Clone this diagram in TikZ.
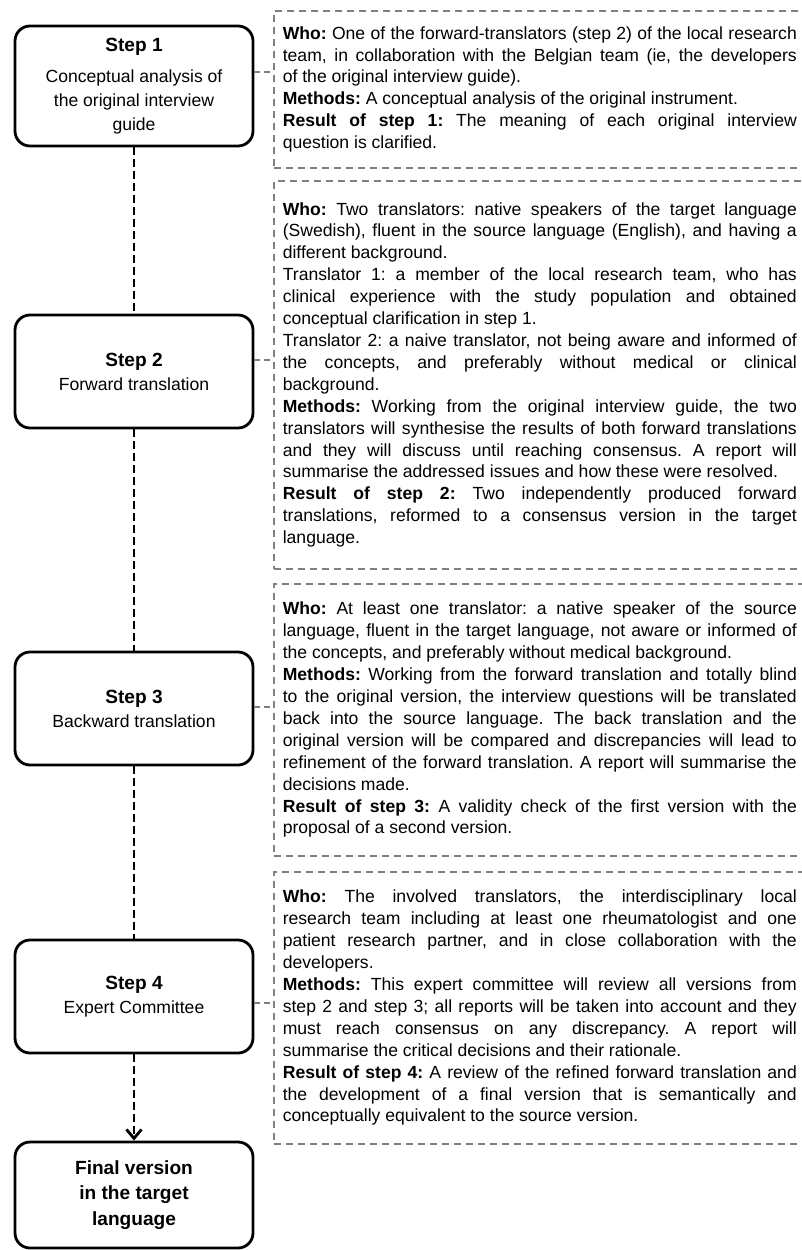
\documentclass[tikz,border=0pt]{standalone}
\usepackage{fontspec}
\setmainfont{Liberation Sans}
\usetikzlibrary{arrows.meta}
\definecolor{dashgray}{HTML}{808080}
\newcommand{\jline}[1]{\makebox[\hsize][s]{\spaceskip=0pt\xspaceskip=0pt\relax #1}\\}
\newcommand{\steptitle}[1]{{\fontsize{16.3}{20.4}\selectfont\bfseries #1}}

\begin{document}
\begin{tikzpicture}[x=0.03cm, y=-0.03cm,
		stepbox/.style={draw, line width=2.4pt, rounded corners=0.45cm, minimum width=7.14cm, minimum height=3.39cm, align=center, font=\fontsize{15}{20.4}\selectfont},
		infobox/.style={draw=dashgray, line width=1.4pt, dash pattern=on 6pt off 4.25pt, anchor=north west, text width=15.42cm, inner xsep=0.27cm, align=flush left, font=\fontsize{15}{18.7}\selectfont\frenchspacing},
		vlink/.style={line width=2.4pt, dash pattern=on 6.8pt off 3.4pt},
		hlink/.style={dashgray, line width=1.4pt, dash pattern=on 5pt off 3.4pt}]
		\useasboundingbox (0,0) rectangle (801,1250);

		\node[stepbox, minimum height=3.6cm] (s1) at (134,86) {\steptitle{Step 1}\\[6pt]Conceptual analysis of\\the original interview\\guide};
		\node[stepbox] (s2) at (134,371.5) {\steptitle{Step 2}\\Forward translation};
		\node[stepbox] (s3) at (134,708.5) {\steptitle{Step 3}\\Backward translation};
		\node[stepbox] (s4) at (134,996.5) {\steptitle{Step 4}\\Expert Committee};
		\node[stepbox, minimum height=3.18cm, font=\bfseries\fontsize{16.3}{21.7}\selectfont] (fin) at (134,1195) {Final version\\in the target\\language};

		\node[infobox, minimum height=4.71cm] (i1) at (273,10) {%
			\jline{\textbf{Who:} One of the forward-translators (step 2) of the local research}
			\jline{team, in collaboration with the Belgian team (ie, the developers}
			of the original interview guide).\\
			\textbf{Methods:} A conceptual analysis of the original instrument.\\
			\jline{\textbf{Result of step 1:} The meaning of each original interview}
			question is clarified.};
		\node[infobox, minimum height=11.64cm] (i2) at (273,180) {%
			\jline{\textbf{Who:} Two translators: native speakers of the target language}
			\jline{(Swedish), fluent in the source language (English), and having a}
			different background.\\
			\jline{Translator 1: a member of the local research team, who has}
			\jline{clinical experience with the study population and obtained}
			conceptual clarification in step 1.\\
			\jline{Translator 2: a naive translator, not being aware and informed of}
			\jline{the concepts, and preferably without medical or clinical}
			background.\\
			\jline{\textbf{Methods:} Working from the original interview guide, the two}
			\jline{translators will synthesise the results of both forward translations}
			\jline{and they will discuss until reaching consensus. A report will}
			summarise the addressed issues and how these were resolved.\\
			\jline{\textbf{Result of step 2:} Two independently produced forward}
			\jline{translations, reformed to a consensus version in the target}
			language.};
		\node[infobox, minimum height=8.16cm] (i3) at (273,583) {%
			\jline{\textbf{Who:} At least one translator: a native speaker of the source}
			\jline{language, fluent in the target language, not aware or informed of}
			the concepts, and preferably without medical background.\\
			\jline{\textbf{Methods:} Working from the forward translation and totally blind}
			\jline{to the original version, the interview questions will be translated}
			\jline{back into the source language. The back translation and the}
			\jline{original version will be compared and discrepancies will lead to}
			\jline{refinement of the forward translation. A report will summarise the}
			decisions made.\\
			\jline{\textbf{Result of step 3:} A validity check of the first version with the}
			proposal of a second version.};
		\node[infobox, minimum height=8.16cm] (i4) at (273,871) {%
			\jline{\textbf{Who:} The involved translators, the interdisciplinary local}
			\jline{research team including at least one rheumatologist and one}
			\jline{patient research partner, and in close collaboration with the}
			developers.\\
			\jline{\textbf{Methods:} This expert committee will review all versions from}
			\jline{step 2 and step 3; all reports will be taken into account and they}
			\jline{must reach consensus on any discrepancy. A report will}
			summarise the critical decisions and their rationale.\\
			\jline{\textbf{Result of step 4:} A review of the refined forward translation and}
			\jline{the development of a final version that is semantically and}
			conceptually equivalent to the source version.};

		\foreach \a/\b in {s1/s2, s2/s3, s3/s4}
			\draw[vlink] (\a) -- (\b);
		\draw[vlink, -{Straight Barb[length=2.7mm, width=4.5mm]}] (s4) -- (fin);
		\foreach \n/\h in {1/72, 2/360, 3/707, 4/1003}
			\draw[hlink] (s\n.east |- 0,\h) -- (i\n.west |- 0,\h);
\end{tikzpicture}
\end{document}
